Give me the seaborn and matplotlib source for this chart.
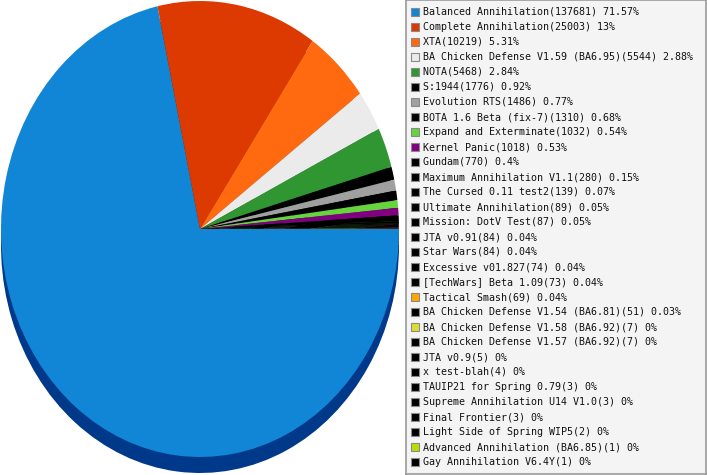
import matplotlib
matplotlib.use("Agg")
import matplotlib.pyplot as plt
from matplotlib.patches import Rectangle
from matplotlib.colors import to_rgb
import seaborn as sns

# mods and how many games were played with each
mods = [
    "Balanced Annihilation", "Complete Annihilation", "XTA",
    "BA Chicken Defense V1.59 (BA6.95)", "NOTA", "S:1944", "Evolution RTS",
    "BOTA 1.6 Beta (fix-7)", "Expand and Exterminate", "Kernel Panic",
    "Gundam", "Maximum Annihilation V1.1", "The Cursed 0.11 test2",
    "Ultimate Annihilation", "Mission: DotV Test", "JTA v0.91", "Star Wars",
    "Excessive v01.827", "[TechWars] Beta 1.09", "Tactical Smash",
    "BA Chicken Defense V1.54 (BA6.81)", "BA Chicken Defense V1.58 (BA6.92)",
    "BA Chicken Defense V1.57 (BA6.92)", "JTA v0.9", "x test-blah",
    "TAUIP21 for Spring 0.79", "Supreme Annihilation U14 V1.0",
    "Final Frontier", "Light Side of Spring WIP5",
    "Advanced Annihilation (BA6.85)", "Gay Annihilation V6.4Y",
]
games = [
    137681, 25003, 10219, 5544, 5468, 1776, 1486, 1310, 1032, 1018,
    770, 280, 139, 89, 87, 84, 84, 74, 73, 69,
    51, 7, 7, 5, 4, 3, 3, 3, 2, 1, 1,
]
colors = [
    "#1185d6", "#dc3a00", "#ff6a10", "#ebebeb", "#2f9632", "#000000",
    "#a0a0a0", "#000000", "#66d43c", "#800080",
    "#000000", "#000000", "#000000", "#000000", "#000000", "#000000",
    "#000000", "#000000", "#000000", "#ffa500",
    "#000000", "#dddd30", "#000000", "#000000", "#000000", "#000000",
    "#000000", "#000000", "#000000", "#bbdd00", "#000000",
]

sns.set_theme(style="white")

W, H = 707, 475
fig = plt.figure(figsize=(W / 100, H / 100), dpi=100)
fig.patch.set_facecolor("white")

# pie: ellipse centre (200, 229) px, rx 199, ry 228, depth 16 px
cx, cy, rx, ry, depth = 200, 229, 199, 228, 16
x0, x1 = cx - rx, cx + rx
ytop, ybot = cy - ry, cy + ry + depth + 1
ax = fig.add_axes([x0 / W, (H - ybot) / H, (x1 - x0) / W, (ybot - ytop) / H])

shade = [tuple(c * 0.45 for c in to_rgb(col)) for col in colors]
shade[0] = "#00388a"
ax.pie(games, colors=shade, startangle=0, counterclock=False,
       center=(0, -depth / ry), wedgeprops=dict(linewidth=0))
ax.pie(games, colors=colors, startangle=0, counterclock=False,
       wedgeprops=dict(linewidth=0, antialiased=True))
ax.set_aspect("auto")
ax.set_xlim(-1, 1)
ax.set_ylim(-(ybot - cy) / ry, 1)
ax.axis("off")

# legend box
lx0, lx1, ly0, ly1 = 405.5, 706, 0.5, 473.5
lax = fig.add_axes([lx0 / W, (H - ly1) / H, (lx1 - lx0) / W, (ly1 - ly0) / H])
lax.set_xlim(0, lx1 - lx0)
lax.set_ylim(ly1 - ly0, 0)
lax.set_facecolor("#f4f4f4")
for s in lax.spines.values():
    s.set_color("#9a9a9a")
    s.set_linewidth(1.2)
lax.set_xticks([])
lax.set_yticks([])

total = sum(games)
for i, (name, n, col) in enumerate(zip(mods, games, colors)):
    yc = 12 + i * 15 - ly0
    pct = round(n / total * 100, 2)
    lax.add_patch(Rectangle((5.5, yc - 3.8), 7.5, 7.5, facecolor=col,
                            edgecolor="#8a8a8a", linewidth=0.8))
    lax.text(17.5, yc, f"{name}({n}) {pct:g}%", fontsize=7.2,
             family="DejaVu Sans Mono", color="#111111", va="center",
             ha="left")

fig.savefig("out.png", dpi=100)
